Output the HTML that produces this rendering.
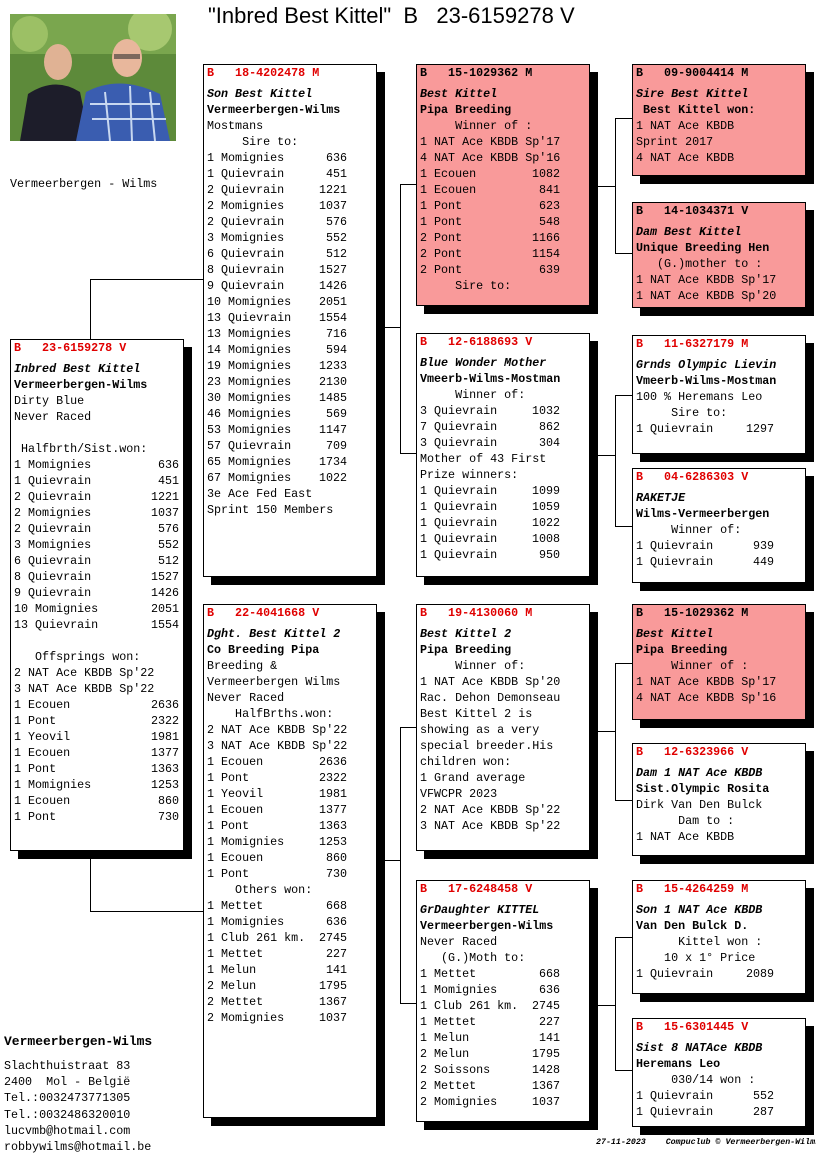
<!DOCTYPE html>
<html><head><meta charset="utf-8">
<style>
*{margin:0;padding:0;box-sizing:border-box}
body{width:816px;height:1172px;background:#fff;position:relative;overflow:hidden;font-family:"Liberation Mono",monospace;font-size:11.7px;color:#000}
.box{position:absolute;width:174px;border:1px solid #000;background:#fff;box-shadow:8px 8px 0 #000;padding-left:3px}
.pink{background:#f99a9a}
.l{height:16px;line-height:16px;white-space:pre}
.hd{font-weight:bold;color:#e00000;margin-bottom:5px}
.pink .hd{color:#000}
.it{font-style:italic;font-weight:bold}
.bd{font-weight:bold}
.r{display:flex;justify-content:space-between;height:16px;line-height:16px;white-space:pre}
.c1 .r{width:165px}.c2 .r{width:140px}.c3 .r{width:140px}.c4 .r{width:138px}
.h{position:absolute;height:1px;background:#000}
.v{position:absolute;width:1px;background:#000}
.t{position:absolute;white-space:pre}
</style></head><body>
<div class="t" style="left:208px;top:3px;font-family:'Liberation Sans',sans-serif;font-size:22px">"Inbred Best Kittel"  B   23-6159278 V</div>

<svg style="position:absolute;left:10px;top:14px" width="166" height="127" viewBox="0 0 166 127">
<rect width="166" height="127" fill="#5d8a3a"/>
<rect x="0" y="0" width="166" height="40" fill="#7aa64e"/>
<circle cx="20" cy="20" r="18" fill="#9cc065"/><circle cx="140" cy="15" r="22" fill="#a7c870"/>
<path d="M10 127 L18 80 Q45 62 70 78 L80 127Z" fill="#1d1d2a"/>
<ellipse cx="48" cy="48" rx="14" ry="18" fill="#e0b294"/>
<path d="M66 127 L76 78 Q110 60 150 80 L160 127Z" fill="#3a5db0"/>
<path d="M80 90 L150 90 M82 105 L156 105 M95 78 L100 127 M120 72 L122 127 M140 78 L145 127" stroke="#c8d8f0" stroke-width="2"/>
<ellipse cx="117" cy="44" rx="15" ry="19" fill="#e8b79c"/>
<rect x="104" y="40" width="26" height="5" fill="#333" opacity=".6"/>
</svg>

<div class="t" style="left:10px;top:177px">Vermeerbergen - Wilms</div>

<div class="v" style="left:90px;top:279px;height:60px"></div>
<div class="h" style="left:90px;top:279px;width:113px"></div>
<div class="v" style="left:90px;top:858px;height:53px"></div>
<div class="h" style="left:90px;top:911px;width:113px"></div>
<div class="h" style="left:384px;top:327px;width:16px"></div>
<div class="v" style="left:400px;top:184px;height:270px"></div>
<div class="h" style="left:400px;top:184px;width:16px"></div>
<div class="h" style="left:400px;top:453px;width:16px"></div>
<div class="h" style="left:384px;top:860px;width:16px"></div>
<div class="v" style="left:400px;top:727px;height:277px"></div>
<div class="h" style="left:400px;top:727px;width:16px"></div>
<div class="h" style="left:400px;top:1003px;width:16px"></div>
<div class="h" style="left:597px;top:186px;width:18px"></div>
<div class="v" style="left:615px;top:118px;height:136px"></div>
<div class="h" style="left:615px;top:118px;width:17px"></div>
<div class="h" style="left:615px;top:253px;width:17px"></div>
<div class="h" style="left:597px;top:455px;width:18px"></div>
<div class="v" style="left:615px;top:395px;height:132px"></div>
<div class="h" style="left:615px;top:395px;width:17px"></div>
<div class="h" style="left:615px;top:526px;width:17px"></div>
<div class="h" style="left:597px;top:731px;width:18px"></div>
<div class="v" style="left:615px;top:663px;height:138px"></div>
<div class="h" style="left:615px;top:663px;width:17px"></div>
<div class="h" style="left:615px;top:800px;width:17px"></div>
<div class="h" style="left:597px;top:1005px;width:18px"></div>
<div class="v" style="left:615px;top:937px;height:134px"></div>
<div class="h" style="left:615px;top:937px;width:17px"></div>
<div class="h" style="left:615px;top:1070px;width:17px"></div>

<div class="box c1" style="left:10px;top:339px;height:512px">
<div class="l hd">B   23-6159278 V</div>
<div class="l it">Inbred Best Kittel</div>
<div class="l bd">Vermeerbergen-Wilms</div>
<div class="l">Dirty Blue</div>
<div class="l">Never Raced</div>
<div class="l"> </div>
<div class="l"> Halfbrth/Sist.won:</div>
<div class="r"><span>1 Momignies</span><span>636</span></div>
<div class="r"><span>1 Quievrain</span><span>451</span></div>
<div class="r"><span>2 Quievrain</span><span>1221</span></div>
<div class="r"><span>2 Momignies</span><span>1037</span></div>
<div class="r"><span>2 Quievrain</span><span>576</span></div>
<div class="r"><span>3 Momignies</span><span>552</span></div>
<div class="r"><span>6 Quievrain</span><span>512</span></div>
<div class="r"><span>8 Quievrain</span><span>1527</span></div>
<div class="r"><span>9 Quievrain</span><span>1426</span></div>
<div class="r"><span>10 Momignies</span><span>2051</span></div>
<div class="r"><span>13 Quievrain</span><span>1554</span></div>
<div class="l"> </div>
<div class="l">   Offsprings won:</div>
<div class="l">2 NAT Ace KBDB Sp'22</div>
<div class="l">3 NAT Ace KBDB Sp'22</div>
<div class="r"><span>1 Ecouen</span><span>2636</span></div>
<div class="r"><span>1 Pont</span><span>2322</span></div>
<div class="r"><span>1 Yeovil</span><span>1981</span></div>
<div class="r"><span>1 Ecouen</span><span>1377</span></div>
<div class="r"><span>1 Pont</span><span>1363</span></div>
<div class="r"><span>1 Momignies</span><span>1253</span></div>
<div class="r"><span>1 Ecouen</span><span>860</span></div>
<div class="r"><span>1 Pont</span><span>730</span></div>
</div>

<div class="box c2" style="left:203px;top:64px;height:513px">
<div class="l hd">B   18-4202478 M</div>
<div class="l it">Son Best Kittel</div>
<div class="l bd">Vermeerbergen-Wilms</div>
<div class="l">Mostmans</div>
<div class="l">     Sire to:</div>
<div class="r"><span>1 Momignies</span><span>636</span></div>
<div class="r"><span>1 Quievrain</span><span>451</span></div>
<div class="r"><span>2 Quievrain</span><span>1221</span></div>
<div class="r"><span>2 Momignies</span><span>1037</span></div>
<div class="r"><span>2 Quievrain</span><span>576</span></div>
<div class="r"><span>3 Momignies</span><span>552</span></div>
<div class="r"><span>6 Quievrain</span><span>512</span></div>
<div class="r"><span>8 Quievrain</span><span>1527</span></div>
<div class="r"><span>9 Quievrain</span><span>1426</span></div>
<div class="r"><span>10 Momignies</span><span>2051</span></div>
<div class="r"><span>13 Quievrain</span><span>1554</span></div>
<div class="r"><span>13 Momignies</span><span>716</span></div>
<div class="r"><span>14 Momignies</span><span>594</span></div>
<div class="r"><span>19 Momignies</span><span>1233</span></div>
<div class="r"><span>23 Momignies</span><span>2130</span></div>
<div class="r"><span>30 Momignies</span><span>1485</span></div>
<div class="r"><span>46 Momignies</span><span>569</span></div>
<div class="r"><span>53 Momignies</span><span>1147</span></div>
<div class="r"><span>57 Quievrain</span><span>709</span></div>
<div class="r"><span>65 Momignies</span><span>1734</span></div>
<div class="r"><span>67 Momignies</span><span>1022</span></div>
<div class="l">3e Ace Fed East</div>
<div class="l">Sprint 150 Members</div>
</div>

<div class="box c2" style="left:203px;top:604px;height:514px">
<div class="l hd">B   22-4041668 V</div>
<div class="l it">Dght. Best Kittel 2</div>
<div class="l bd">Co Breeding Pipa</div>
<div class="l">Breeding &amp;</div>
<div class="l">Vermeerbergen Wilms</div>
<div class="l">Never Raced</div>
<div class="l">    HalfBrths.won:</div>
<div class="l">2 NAT Ace KBDB Sp'22</div>
<div class="l">3 NAT Ace KBDB Sp'22</div>
<div class="r"><span>1 Ecouen</span><span>2636</span></div>
<div class="r"><span>1 Pont</span><span>2322</span></div>
<div class="r"><span>1 Yeovil</span><span>1981</span></div>
<div class="r"><span>1 Ecouen</span><span>1377</span></div>
<div class="r"><span>1 Pont</span><span>1363</span></div>
<div class="r"><span>1 Momignies</span><span>1253</span></div>
<div class="r"><span>1 Ecouen</span><span>860</span></div>
<div class="r"><span>1 Pont</span><span>730</span></div>
<div class="l">    Others won:</div>
<div class="r"><span>1 Mettet</span><span>668</span></div>
<div class="r"><span>1 Momignies</span><span>636</span></div>
<div class="r"><span>1 Club 261 km.</span><span>2745</span></div>
<div class="r"><span>1 Mettet</span><span>227</span></div>
<div class="r"><span>1 Melun</span><span>141</span></div>
<div class="r"><span>2 Melun</span><span>1795</span></div>
<div class="r"><span>2 Mettet</span><span>1367</span></div>
<div class="r"><span>2 Momignies</span><span>1037</span></div>
</div>

<div class="box c3 pink" style="left:416px;top:64px;height:242px">
<div class="l hd">B   15-1029362 M</div>
<div class="l it">Best Kittel</div>
<div class="l bd">Pipa Breeding</div>
<div class="l">     Winner of :</div>
<div class="l">1 NAT Ace KBDB Sp'17</div>
<div class="l">4 NAT Ace KBDB Sp'16</div>
<div class="r"><span>1 Ecouen</span><span>1082</span></div>
<div class="r"><span>1 Ecouen</span><span>841</span></div>
<div class="r"><span>1 Pont</span><span>623</span></div>
<div class="r"><span>1 Pont</span><span>548</span></div>
<div class="r"><span>2 Pont</span><span>1166</span></div>
<div class="r"><span>2 Pont</span><span>1154</span></div>
<div class="r"><span>2 Pont</span><span>639</span></div>
<div class="l">     Sire to:</div>
</div>

<div class="box c3" style="left:416px;top:333px;height:244px">
<div class="l hd">B   12-6188693 V</div>
<div class="l it">Blue Wonder Mother</div>
<div class="l bd">Vmeerb-Wilms-Mostman</div>
<div class="l">     Winner of:</div>
<div class="r"><span>3 Quievrain</span><span>1032</span></div>
<div class="r"><span>7 Quievrain</span><span>862</span></div>
<div class="r"><span>3 Quievrain</span><span>304</span></div>
<div class="l">Mother of 43 First</div>
<div class="l">Prize winners:</div>
<div class="r"><span>1 Quievrain</span><span>1099</span></div>
<div class="r"><span>1 Quievrain</span><span>1059</span></div>
<div class="r"><span>1 Quievrain</span><span>1022</span></div>
<div class="r"><span>1 Quievrain</span><span>1008</span></div>
<div class="r"><span>1 Quievrain</span><span>950</span></div>
</div>

<div class="box c3" style="left:416px;top:604px;height:247px">
<div class="l hd">B   19-4130060 M</div>
<div class="l it">Best Kittel 2</div>
<div class="l bd">Pipa Breeding</div>
<div class="l">     Winner of:</div>
<div class="l">1 NAT Ace KBDB Sp'20</div>
<div class="l">Rac. Dehon Demonseau</div>
<div class="l">Best Kittel 2 is</div>
<div class="l">showing as a very</div>
<div class="l">special breeder.His</div>
<div class="l">children won:</div>
<div class="l">1 Grand average</div>
<div class="l">VFWCPR 2023</div>
<div class="l">2 NAT Ace KBDB Sp'22</div>
<div class="l">3 NAT Ace KBDB Sp'22</div>
</div>

<div class="box c3" style="left:416px;top:880px;height:242px">
<div class="l hd">B   17-6248458 V</div>
<div class="l it">GrDaughter KITTEL</div>
<div class="l bd">Vermeerbergen-Wilms</div>
<div class="l">Never Raced</div>
<div class="l">   (G.)Moth to:</div>
<div class="r"><span>1 Mettet</span><span>668</span></div>
<div class="r"><span>1 Momignies</span><span>636</span></div>
<div class="r"><span>1 Club 261 km.</span><span>2745</span></div>
<div class="r"><span>1 Mettet</span><span>227</span></div>
<div class="r"><span>1 Melun</span><span>141</span></div>
<div class="r"><span>2 Melun</span><span>1795</span></div>
<div class="r"><span>2 Soissons</span><span>1428</span></div>
<div class="r"><span>2 Mettet</span><span>1367</span></div>
<div class="r"><span>2 Momignies</span><span>1037</span></div>
</div>

<div class="box c4 pink" style="left:632px;top:64px;height:112px">
<div class="l hd">B   09-9004414 M</div>
<div class="l it">Sire Best Kittel</div>
<div class="l bd"> Best Kittel won:</div>
<div class="l">1 NAT Ace KBDB</div>
<div class="l">Sprint 2017</div>
<div class="l">4 NAT Ace KBDB</div>
</div>
<div class="box c4 pink" style="left:632px;top:202px;height:106px">
<div class="l hd">B   14-1034371 V</div>
<div class="l it">Dam Best Kittel</div>
<div class="l bd">Unique Breeding Hen</div>
<div class="l">   (G.)mother to :</div>
<div class="l">1 NAT Ace KBDB Sp'17</div>
<div class="l">1 NAT Ace KBDB Sp'20</div>
</div>
<div class="box c4" style="left:632px;top:335px;height:119px">
<div class="l hd">B   11-6327179 M</div>
<div class="l it">Grnds Olympic Lievin</div>
<div class="l bd">Vmeerb-Wilms-Mostman</div>
<div class="l">100 % Heremans Leo</div>
<div class="l">     Sire to:</div>
<div class="r"><span>1 Quievrain</span><span>1297</span></div>
</div>
<div class="box c4" style="left:632px;top:468px;height:115px">
<div class="l hd">B   04-6286303 V</div>
<div class="l it">RAKETJE</div>
<div class="l bd">Wilms-Vermeerbergen</div>
<div class="l">     Winner of:</div>
<div class="r"><span>1 Quievrain</span><span>939</span></div>
<div class="r"><span>1 Quievrain</span><span>449</span></div>
</div>
<div class="box c4 pink" style="left:632px;top:604px;height:116px">
<div class="l hd">B   15-1029362 M</div>
<div class="l it">Best Kittel</div>
<div class="l bd">Pipa Breeding</div>
<div class="l">     Winner of :</div>
<div class="l">1 NAT Ace KBDB Sp'17</div>
<div class="l">4 NAT Ace KBDB Sp'16</div>
</div>
<div class="box c4" style="left:632px;top:743px;height:113px">
<div class="l hd">B   12-6323966 V</div>
<div class="l it">Dam 1 NAT Ace KBDB</div>
<div class="l bd">Sist.Olympic Rosita</div>
<div class="l">Dirk Van Den Bulck</div>
<div class="l">      Dam to :</div>
<div class="l">1 NAT Ace KBDB</div>
</div>
<div class="box c4" style="left:632px;top:880px;height:114px">
<div class="l hd">B   15-4264259 M</div>
<div class="l it">Son 1 NAT Ace KBDB</div>
<div class="l bd">Van Den Bulck D.</div>
<div class="l">      Kittel won :</div>
<div class="l">    10 x 1° Price</div>
<div class="r"><span>1 Quievrain</span><span>2089</span></div>
</div>
<div class="box c4" style="left:632px;top:1018px;height:109px">
<div class="l hd">B   15-6301445 V</div>
<div class="l it">Sist 8 NATAce KBDB</div>
<div class="l bd">Heremans Leo</div>
<div class="l">     030/14 won :</div>
<div class="r"><span>1 Quievrain</span><span>552</span></div>
<div class="r"><span>1 Quievrain</span><span>287</span></div>
</div>

<div class="t" style="left:4px;top:1034px;font-weight:bold;font-size:13px">Vermeerbergen-Wilms</div>
<div class="t" style="left:4px;top:1058px;line-height:16.2px">Slachthuistraat 83
2400  Mol - België
Tel.:0032473771305
Tel.:0032486320010
lucvmb@hotmail.com
robbywilms@hotmail.be</div>
<div class="t" style="left:596px;top:1138px;font-size:8.3px;font-weight:bold;font-style:italic">27-11-2023    Compuclub © Vermeerbergen-Wilms</div>
</body></html>
